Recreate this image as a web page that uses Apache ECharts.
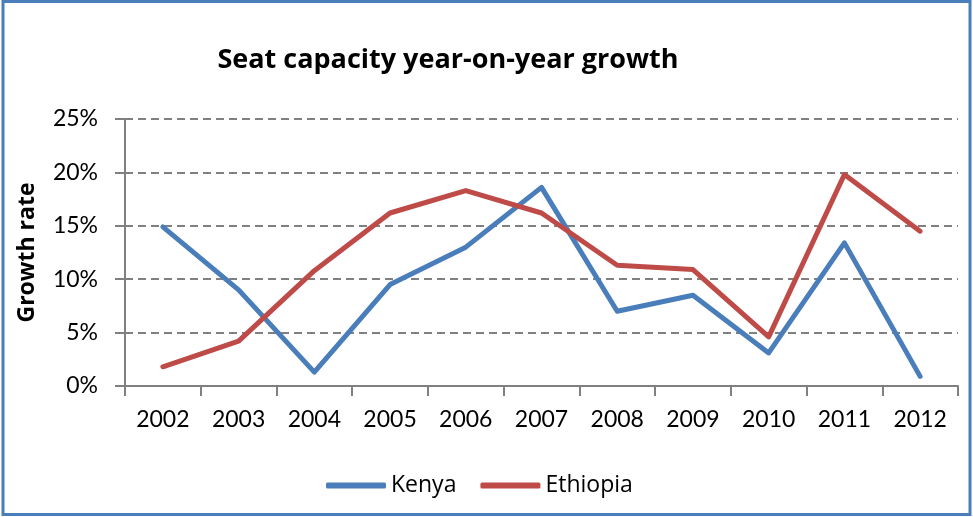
<!DOCTYPE html>
<html>
<head>
<meta charset="utf-8">
<script src="https://cdn.jsdelivr.net/npm/echarts@6/dist/echarts.min.js"></script>
<style>
html,body{margin:0;padding:0;background:#fff;}
#chart{width:973px;height:517px;}
</style>
</head>
<body>
<div id="chart"></div>
<script>
const years = ['2002','2003','2004','2005','2006','2007','2008','2009','2010','2011','2012'];
const kenya = [14.9, 9.0, 1.3, 9.5, 13.0, 18.6, 7.0, 8.5, 3.1, 13.4, 0.9];
const ethiopia = [1.8, 4.2, 10.8, 16.2, 18.3, 16.2, 11.3, 10.9, 4.6, 19.8, 14.5];
const titleText = 'Seat capacity year-on-year growth';
const yName = 'Growth rate';

const FONT = 'Lato';
const FONT2 = 'Open Sans';
const AXIS_COLOR = '#808080';
const chart = echarts.init(document.getElementById('chart'));
chart.setOption({
  backgroundColor: '#ffffff',
  animation: false,
  textStyle: { fontFamily: FONT },
  graphic: [{
    type: 'rect',
    shape: { x: 3, y: 1.5, width: 967, height: 513 },
    style: { fill: 'none', stroke: '#4a7ebb', lineWidth: 3 },
    silent: true
  }],
  title: {
    text: titleText,
    left: 443, top: 42, textAlign: 'center',
    textStyle: { fontFamily: FONT2, fontWeight: 'bold', fontSize: 27, color: '#000' }
  },
  legend: {
    data: ['Kenya', 'Ethiopia'],
    left: 321, top: 469,
    icon: 'roundRect',
    itemWidth: 60, itemHeight: 6, itemGap: 24,
    textStyle: { fontFamily: FONT2, fontSize: 23, color: '#000' }
  },
  grid: { left: 125, right: 15, top: 119, bottom: 131, containLabel: false },
  xAxis: {
    type: 'category',
    data: years,
    boundaryGap: true,
    axisLine: { lineStyle: { color: AXIS_COLOR, width: 2 } },
    axisTick: { show: true, length: 10, alignWithLabel: false, lineStyle: { color: AXIS_COLOR, width: 2 } },
    axisLabel: { fontFamily: FONT, fontSize: 23, color: '#000', margin: 22 },
    splitLine: { show: false }
  },
  yAxis: {
    type: 'value',
    min: 0, max: 25, interval: 5,
    name: yName,
    nameLocation: 'middle',
    nameGap: 86,
    nameTextStyle: { fontFamily: FONT2, fontWeight: 'bold', fontSize: 23, color: '#000' },
    axisLine: { show: true, lineStyle: { color: AXIS_COLOR, width: 2 } },
    axisTick: { show: true, length: 10, lineStyle: { color: AXIS_COLOR, width: 2 } },
    axisLabel: { formatter: '{value}%', fontFamily: FONT, fontSize: 23, color: '#000', margin: 27 },
    splitLine: { show: true, lineStyle: { color: AXIS_COLOR, width: 2, type: [8, 5] } }
  },
  series: [
    {
      name: 'Kenya', type: 'line', data: kenya,
      symbol: 'none', smooth: false,
      itemStyle: { color: '#4a7ebb' },
      lineStyle: { color: '#4a7ebb', width: 5, cap: 'round', join: 'round' }
    },
    {
      name: 'Ethiopia', type: 'line', data: ethiopia,
      symbol: 'none', smooth: false,
      itemStyle: { color: '#be4b48' },
      lineStyle: { color: '#be4b48', width: 5, cap: 'round', join: 'round' }
    }
  ]
});
</script>
</body>
</html>
